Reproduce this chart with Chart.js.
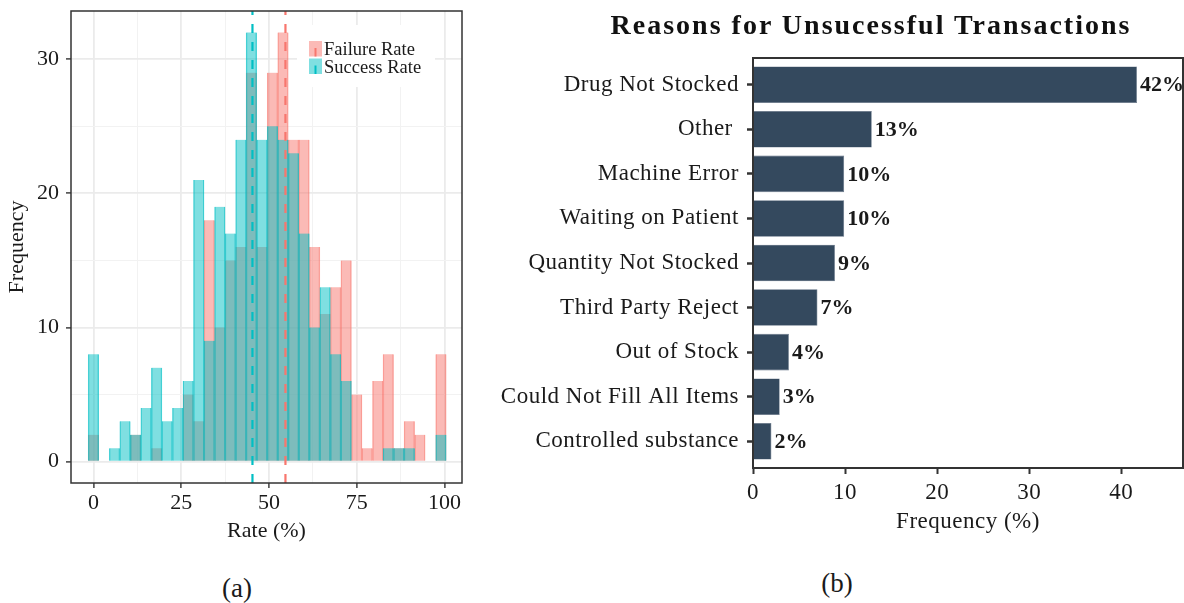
<!DOCTYPE html>
<html>
<head>
<meta charset="utf-8">
<script src="https://cdn.jsdelivr.net/npm/chart.js@4.4.1/dist/chart.umd.min.js"></script>
<style>
  body { margin: 0; width: 1184px; height: 603px; background: #fff; position: relative; overflow: hidden; font-family: 'Liberation Serif', serif; }
  canvas { position: absolute; top: 0; }
  #histChart { left: 0; }
  #reasonChart { left: 480px; }
  .cap { position: absolute; font-size: 27px; color: #1a1a1a; transform: translate(-50%, -50%); white-space: nowrap; }
  #reasonTitle { font-size: 28px; font-weight: bold; letter-spacing: 2px; color: #111; }
</style>
</head>
<body>
<canvas id="histChart" width="480" height="560"></canvas>
<canvas id="reasonChart" width="704" height="560"></canvas>
<div class="cap" id="reasonTitle" style="left:871px;top:25px">Reasons for Unsucessful Transactions</div>
<div class="cap" style="left:237px;top:588px">(a)</div>
<div class="cap" style="left:837px;top:583px">(b)</div>

<script>
/* =========================
   DATA (a): rate histogram, binwidth 3
   ========================= */
const binCenters = [0, 3, 6, 9, 12, 15, 18, 21, 24, 27, 30, 33, 36, 39, 42, 45, 48,
  51, 54, 57, 60, 63, 66, 69, 72, 75, 78, 81, 84, 87, 90, 93, 96, 99];
const successCounts = [8, 0, 1, 3, 2, 4, 7, 3, 4, 6, 21, 9, 19, 17, 24, 32, 24,
  25, 24, 23, 17, 10, 13, 8, 6, 0, 0, 0, 1, 1, 1, 0, 0, 2];
const failureCounts = [2, 0, 0, 0, 2, 0, 1, 0, 0, 5, 3, 18, 10, 15, 16, 29, 16,
  29, 32, 24, 24, 16, 11, 13, 15, 5, 1, 6, 8, 1, 3, 2, 0, 8];
const successMean = 45.3;
const failureMean = 54.7;
const rateTicks = [0, 25, 50, 75, 100];
const countTicks = [0, 10, 20, 30];

/* =========================
   DATA (b): reasons
   ========================= */
const reasons = ["Drug Not Stocked", "Other ", "Machine Error", "Waiting on Patient",
  "Quantity Not Stocked", "Third Party Reject", "Out of Stock",
  "Could Not Fill All Items", "Controlled substance"];
const reasonFreq = [41.7, 12.9, 9.9, 9.9, 8.9, 7.0, 3.9, 2.9, 2.0];
const freqTicks = [0, 10, 20, 30, 40];

/* =========================
   STYLE
   ========================= */
const SERIF = "'Liberation Serif', 'Times New Roman', serif";
const INK = "#1a1a1a";
const FAIL = "248,118,109";
const SUCC = "0,191,196";
Chart.defaults.font.family = SERIF;
Chart.defaults.color = INK;

// add minor lines halfway between major ticks
function withMinor(major) {
  const out = [];
  major.forEach((v, i) => {
    out.push(v);
    if (i < major.length - 1) out.push((v + major[i + 1]) / 2);
  });
  return out;
}

// fixed axis boxes, no extra label padding around the plot area
function fixBox(size) {
  return (s) => {
    if (s.isHorizontal()) s.height = size;
    else s.width = size;
    s.paddingTop = s.paddingBottom = s.paddingLeft = s.paddingRight = 0;
  };
}

const panelBorder = {
  id: "panelBorder",
  afterDatasetsDraw(chart, args, opts) {
    const { ctx, chartArea: a } = chart;
    ctx.save();
    ctx.strokeStyle = opts.color || "#333";
    ctx.lineWidth = opts.width || 1.5;
    ctx.strokeRect(a.left, a.top, a.right - a.left, a.bottom - a.top);
    ctx.restore();
  },
};

const histLegend = {
  id: "histLegend",
  afterDatasetsDraw(chart) {
    const { ctx, chartArea: a } = chart;
    const entries = [
      { text: "Failure Rate", rgb: FAIL },
      { text: "Success Rate", rgb: SUCC },
    ];
    const bx = a.left + 226, by = a.top + 14;
    ctx.save();
    ctx.fillStyle = "#fff";
    ctx.fillRect(bx, by, 138, 62);
    entries.forEach((e, i) => {
      const ky = by + 16 + i * 17.5;
      const kx = bx + 12;
      ctx.fillStyle = `rgba(${e.rgb},0.5)`;
      ctx.fillRect(kx, ky, 13, 15.5);
      ctx.strokeStyle = `rgb(${e.rgb})`;
      ctx.lineWidth = 2;
      ctx.beginPath();
      ctx.moveTo(kx + 6.5, ky + 7);
      ctx.lineTo(kx + 6.5, ky + 15.5);
      ctx.stroke();
      ctx.fillStyle = INK;
      ctx.font = `18.5px ${SERIF}`;
      ctx.textBaseline = "alphabetic";
      ctx.fillText(e.text, kx + 15, ky + 14);
    });
    ctx.restore();
  },
};

/* =========================
   CHART (a)
   ========================= */
const histChart = new Chart(document.getElementById("histChart"), {
  type: "bar",
  data: {
    datasets: [
      {
        type: "line",
        label: "success mean",
        data: [{ x: successMean, y: -1.6 }, { x: successMean, y: 33.6 }],
        borderColor: `rgb(${SUCC})`,
        borderWidth: 2.2,
        borderDash: [9, 9],
        pointRadius: 0,
        order: 0,
      },
      {
        type: "line",
        label: "failure mean",
        data: [{ x: failureMean, y: -1.6 }, { x: failureMean, y: 33.6 }],
        borderColor: `rgb(${FAIL})`,
        borderWidth: 2.2,
        borderDash: [9, 9],
        pointRadius: 0,
        order: 0,
      },
      {
        label: "Success Rate",
        data: binCenters.map((x, i) => ({ x, y: successCounts[i] })),
        backgroundColor: `rgba(${SUCC},0.5)`,
        borderColor: `rgba(${SUCC},0.65)`,
        borderWidth: { left: 0.7, right: 0.7, top: 0, bottom: 0 },
        grouped: false,
        barPercentage: 1,
        categoryPercentage: 1,
        order: 1,
      },
      {
        label: "Failure Rate",
        data: binCenters.map((x, i) => ({ x, y: failureCounts[i] })),
        backgroundColor: `rgba(${FAIL},0.5)`,
        borderColor: `rgba(${FAIL},0.6)`,
        borderWidth: { left: 0.7, right: 0.7, top: 0, bottom: 0 },
        grouped: false,
        barPercentage: 1,
        categoryPercentage: 1,
        order: 2,
      },
    ],
  },
  options: {
    responsive: false,
    animation: false,
    layout: { padding: { top: 11, right: 18, bottom: 0, left: 0 } },
    plugins: {
      legend: { display: false },
      tooltip: { enabled: false },
      panelBorder: { color: "#333", width: 1.5 },
    },
    scales: {
      x: {
        type: "linear",
        min: -6.4,
        max: 105,
        offset: false,
        afterBuildTicks: (s) => { s.ticks = withMinor(rateTicks).map((v) => ({ value: v })); },
        afterFit: fixBox(77),
        ticks: {
          autoSkip: false,
          maxRotation: 0,
          padding: 2,
          font: { size: 22 },
          callback: (v) => (rateTicks.includes(v) ? String(v) : ""),
        },
        grid: {
          offset: false,
          color: (c) => (rateTicks.includes(c.tick.value) ? "#ebebeb" : "#f2f2f2"),
          lineWidth: (c) => (rateTicks.includes(c.tick.value) ? 1.8 : 1),
          tickColor: (c) => (rateTicks.includes(c.tick.value) ? "#333" : "rgba(0,0,0,0)"),
          tickWidth: 1.4,
          tickLength: 5,
        },
        border: { display: false },
        title: { display: true, text: "Rate (%)", font: { size: 22 }, padding: { top: 0, bottom: 16 } },
      },
      y: {
        type: "linear",
        min: -1.6,
        max: 33.6,
        afterBuildTicks: (s) => { s.ticks = withMinor(countTicks).map((v) => ({ value: v })); },
        afterFit: fixBox(71),
        ticks: {
          autoSkip: false,
          padding: 7,
          font: { size: 22 },
          callback: (v) => (countTicks.includes(v) ? String(v) : ""),
        },
        grid: {
          color: (c) => (countTicks.includes(c.tick.value) ? "#ebebeb" : "#f2f2f2"),
          lineWidth: (c) => (countTicks.includes(c.tick.value) ? 1.8 : 1),
          tickColor: (c) => (countTicks.includes(c.tick.value) ? "#333" : "rgba(0,0,0,0)"),
          tickWidth: 1.4,
          tickLength: 5,
        },
        border: { display: false },
        title: { display: true, text: "Frequency", font: { size: 22 }, padding: { top: 4, bottom: 0 } },
      },
    },
  },
  plugins: [histLegend, panelBorder],
});

/* =========================
   CHART (b)
   ========================= */
const barLabels = {
  id: "barLabels",
  afterDatasetsDraw(chart) {
    const { ctx } = chart;
    const meta = chart.getDatasetMeta(0);
    ctx.save();
    ctx.fillStyle = INK;
    ctx.font = `bold 22px ${SERIF}`;
    ctx.textAlign = "left";
    ctx.textBaseline = "middle";
    meta.data.forEach((bar, i) => {
      ctx.fillText(Math.round(reasonFreq[i]) + "%", bar.x + 3, bar.y + 1);
    });
    ctx.restore();
  },
};

// slightly wider axis text (the source used a wider serif)
const axisSpacing = {
  id: "axisSpacing",
  beforeDraw(chart) { chart.ctx.letterSpacing = "0.5px"; },
  beforeDatasetsDraw(chart) { chart.ctx.letterSpacing = "0px"; },
};

const reasonChart = new Chart(document.getElementById("reasonChart"), {
  type: "bar",
  data: {
    datasets: [
      {
        label: "Frequency (%)",
        data: reasonFreq.map((v, i) => ({ x: v, y: i + 1 })),
        backgroundColor: "#34495e",
        borderColor: "#5d6d80",
        borderWidth: 0.6,
        borderSkipped: "start",
        barPercentage: 0.82,
        categoryPercentage: 1,
      },
    ],
  },
  options: {
    indexAxis: "y",
    responsive: false,
    animation: false,
    layout: { padding: { top: 58, right: 1, bottom: 0, left: 0 } },
    plugins: {
      legend: { display: false },
      tooltip: { enabled: false },
      panelBorder: { color: "#333", width: 2 },
    },
    scales: {
      x: {
        type: "linear",
        min: 0,
        max: 46.7,
        afterBuildTicks: (s) => { s.ticks = freqTicks.map((v) => ({ value: v })); },
        afterFit: fixBox(92),
        ticks: { autoSkip: false, maxRotation: 0, padding: 5, font: { size: 23 } },
        grid: { drawOnChartArea: false, tickColor: "#333", tickWidth: 2, tickLength: 6 },
        border: { display: false },
        title: { display: true, text: "Frequency (%)", font: { size: 23 }, padding: { top: 0, bottom: 24 } },
      },
      y: {
        type: "linear",
        reverse: true,
        min: 0.4,
        max: 9.6,
        offset: false,
        afterBuildTicks: (s) => { s.ticks = reasons.map((r, i) => ({ value: i + 1 })); },
        afterFit: fixBox(273),
        ticks: {
          autoSkip: false,
          padding: 8,
          font: { size: 23 },
          callback: (v) => reasons[v - 1],
        },
        grid: { offset: false, drawOnChartArea: false, tickColor: "#333", tickWidth: 2.5, tickLength: 6 },
        border: { display: false },
      },
    },
  },
  plugins: [axisSpacing, barLabels, panelBorder],
});
</script>
</body>
</html>
